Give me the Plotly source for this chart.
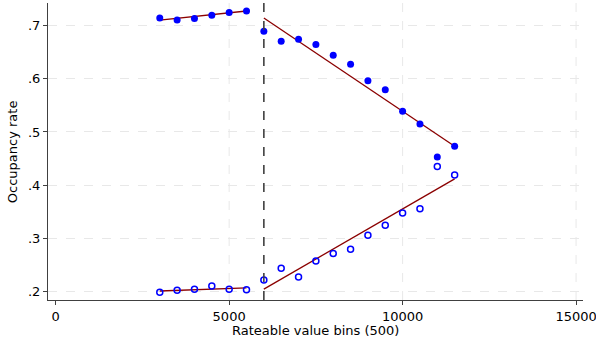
import plotly.graph_objects as go

bins = [3000, 3500, 4000, 4500, 5000, 5500, 6000, 6500, 7000, 7500,
        8000, 8500, 9000, 9500, 10000, 10500, 11000, 11500]
filled = [0.714, 0.710, 0.713, 0.719, 0.724, 0.727, 0.689, 0.670, 0.674, 0.664,
          0.644, 0.627, 0.596, 0.579, 0.539, 0.515, 0.453, 0.473]
hollow = [0.199, 0.203, 0.205, 0.211, 0.205, 0.204, 0.222, 0.244, 0.228, 0.258,
          0.272, 0.280, 0.306, 0.325, 0.348, 0.356, 0.435, 0.419]

# fitted line endpoints
fit_filled_left_x = [3000, 5500]
fit_filled_left_y = [0.710, 0.727]
fit_filled_right_x = [6000, 11500]
fit_filled_right_y = [0.714, 0.473]
fit_hollow_left_x = [3000, 5500]
fit_hollow_left_y = [0.2015, 0.2075]
fit_hollow_right_x = [6000, 11500]
fit_hollow_right_y = [0.205, 0.412]

cutoff = 6000
x_ticks = [0, 5000, 10000, 15000]
x_tick_labels = ["0", "5000", "10000", "15000"]
y_ticks = [0.2, 0.3, 0.4, 0.5, 0.6, 0.7]
y_tick_labels = [".2", ".3", ".4", ".5", ".6", ".7"]

BLUE = "#0000FF"
RED = "#8B0000"
GRID = "#E8E8E8"
FONT = "DejaVu Sans"

fig = go.Figure()
for xs, ys in [(fit_filled_left_x, fit_filled_left_y), (fit_filled_right_x, fit_filled_right_y),
               (fit_hollow_left_x, fit_hollow_left_y), (fit_hollow_right_x, fit_hollow_right_y)]:
    fig.add_trace(go.Scatter(x=xs, y=ys, mode="lines", line=dict(color=RED, width=1.3),
                             showlegend=False, hoverinfo="skip"))

fig.add_trace(go.Scatter(x=bins, y=filled, mode="markers",
                         marker=dict(color=BLUE, size=7, line=dict(width=0)), showlegend=False))
fig.add_trace(go.Scatter(x=bins, y=hollow, mode="markers",
                         marker=dict(color=BLUE, size=6, symbol="circle-open",
                                     line=dict(color=BLUE, width=1.5)), showlegend=False))

# vertical grid lines (none at 0)
for xv in x_ticks[1:]:
    fig.add_shape(type="line", x0=xv, x1=xv, y0=0, y1=1, xref="x", yref="paper",
                  line=dict(color=GRID, width=1, dash="dash"), layer="below")

fig.add_shape(type="line", x0=cutoff, x1=cutoff, y0=0, y1=1, xref="x", yref="paper",
              line=dict(color="#404040", width=1.6, dash="dash"))

fig.add_annotation(text="Rateable value bins (500)", xref="paper", yref="paper",
                   x=0.5, y=-0.103, xanchor="center", yanchor="middle", showarrow=False,
                   font=dict(family=FONT, size=13, color="#000"))
fig.add_annotation(text="Occupancy rate", xref="paper", yref="paper",
                   x=-0.066, y=0.5, xanchor="center", yanchor="middle", textangle=-90,
                   showarrow=False, font=dict(family=FONT, size=13, color="#000"))

fig.update_layout(
    width=596, height=340,
    margin=dict(l=48, r=13, t=3, b=40),
    plot_bgcolor="white", paper_bgcolor="white",
    font=dict(family=FONT, size=13, color="#000000"),
    xaxis=dict(range=[-222, 15200], tickvals=x_ticks, ticktext=x_tick_labels,
               showgrid=False, zeroline=False, automargin=False, ticklabeloverflow="allow",
               showline=True, linecolor="#404040", linewidth=1.2,
               ticks="outside", ticklen=4, tickcolor="#404040"),
    yaxis=dict(range=[0.1846, 0.742], tickvals=y_ticks, ticktext=y_tick_labels,
               showgrid=True, gridcolor=GRID, griddash="dash", zeroline=False, automargin=False,
               showline=True, linecolor="#404040", linewidth=1.2,
               ticks="outside", ticklen=4, tickcolor="#404040"),
)

fig.write_html("out.html", config={"displayModeBar": False},
               post_script="document.body.style.margin='0';document.body.style.overflow='hidden';")
